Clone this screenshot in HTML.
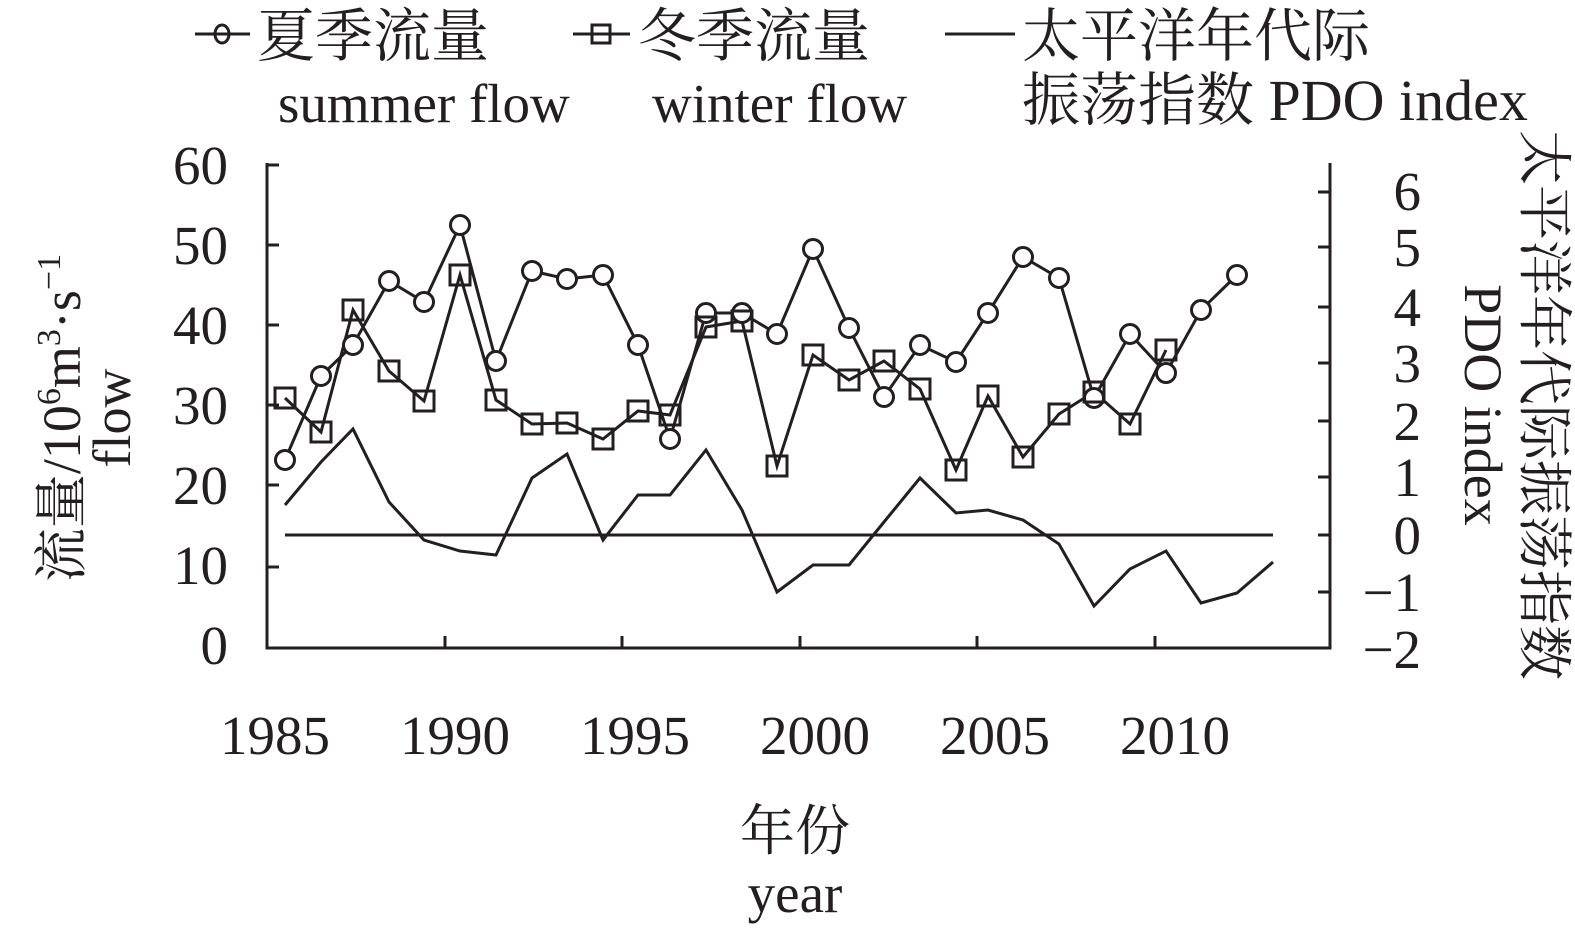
<!DOCTYPE html>
<html><head><meta charset="utf-8"><style>
html,body{margin:0;padding:0;background:#fff;}
svg{display:block;}
text{font-family:"Liberation Serif","Noto Serif CJK SC",serif;fill:#231f20;}
</style></head><body>
<svg width="1575" height="933" viewBox="0 0 1575 933" xmlns="http://www.w3.org/2000/svg">
<g stroke="#231f20" stroke-width="3" fill="none">
<polyline points="267,163 267,648 1330,648 1330,163"/>
<path d="M267,165h12M267,245h12M267,325h12M267,405h12M267,485h12M267,567h12"/>
<path d="M1330,192h-12M1330,247h-12M1330,307h-12M1330,363h-12M1330,421h-12M1330,477h-12M1330,535h-12M1330,592h-12"/>
<path d="M445,648v-12M622,648v-12M800,648v-12M977,648v-12M1155,648v-12"/>
<path d="M285,535H1273"/>
<polyline points="285,505 321,462 353,429 389,502 424,540 460,551 496,555 532,478 567,454 603,540 638,495 670,495 706,450 742,510 777,592 813,565 849,565 884,522 920,478 956,513 988,510 1023,520 1059,544 1094,606 1130,569 1166,551 1201,603 1237,593 1273,562"/>
<polyline points="285,460 321,376 353,345 389,281 424,302 460,225 496,361 532,271 567,279 603,275 638,345 670,439 706,313 742,313 777,334 813,249 849,328 884,397 920,345 956,362 988,313 1023,257 1059,278 1094,398 1130,334 1166,373 1201,310 1237,275"/>
<polyline points="285,398 321,432 353,310 389,371 424,401 460,275 496,400 532,424 567,423 603,439 638,411 670,415 706,327 742,321 777,466 813,355 849,380 884,361 920,389 956,470 988,396 1023,457 1059,414 1094,392 1130,424 1166,350"/>
</g>
<g stroke="#231f20" stroke-width="3" fill="#fff">
<circle cx="285" cy="460" r="9.5"/><circle cx="321" cy="376" r="9.5"/><circle cx="353" cy="345" r="9.5"/><circle cx="389" cy="281" r="9.5"/><circle cx="424" cy="302" r="9.5"/><circle cx="460" cy="225" r="9.5"/><circle cx="496" cy="361" r="9.5"/><circle cx="532" cy="271" r="9.5"/><circle cx="567" cy="279" r="9.5"/><circle cx="603" cy="275" r="9.5"/><circle cx="638" cy="345" r="9.5"/><circle cx="670" cy="439" r="9.5"/><circle cx="706" cy="313" r="9.5"/><circle cx="742" cy="313" r="9.5"/><circle cx="777" cy="334" r="9.5"/><circle cx="813" cy="249" r="9.5"/><circle cx="849" cy="328" r="9.5"/><circle cx="884" cy="397" r="9.5"/><circle cx="920" cy="345" r="9.5"/><circle cx="956" cy="362" r="9.5"/><circle cx="988" cy="313" r="9.5"/><circle cx="1023" cy="257" r="9.5"/><circle cx="1059" cy="278" r="9.5"/><circle cx="1094" cy="398" r="9.5"/><circle cx="1130" cy="334" r="9.5"/><circle cx="1166" cy="373" r="9.5"/><circle cx="1201" cy="310" r="9.5"/><circle cx="1237" cy="275" r="9.5"/>
</g>
<g stroke="#231f20" stroke-width="3" fill="none">
<rect x="275" y="388" width="20" height="20"/><rect x="311" y="422" width="20" height="20"/><rect x="343" y="300" width="20" height="20"/><rect x="379" y="361" width="20" height="20"/><rect x="414" y="391" width="20" height="20"/><rect x="450" y="265" width="20" height="20"/><rect x="486" y="390" width="20" height="20"/><rect x="522" y="414" width="20" height="20"/><rect x="557" y="413" width="20" height="20"/><rect x="593" y="429" width="20" height="20"/><rect x="628" y="401" width="20" height="20"/><rect x="660" y="405" width="20" height="20"/><rect x="696" y="317" width="20" height="20"/><rect x="732" y="311" width="20" height="20"/><rect x="767" y="456" width="20" height="20"/><rect x="803" y="345" width="20" height="20"/><rect x="839" y="370" width="20" height="20"/><rect x="874" y="351" width="20" height="20"/><rect x="910" y="379" width="20" height="20"/><rect x="946" y="460" width="20" height="20"/><rect x="978" y="386" width="20" height="20"/><rect x="1013" y="447" width="20" height="20"/><rect x="1049" y="404" width="20" height="20"/><rect x="1084" y="382" width="20" height="20"/><rect x="1120" y="414" width="20" height="20"/><rect x="1156" y="340" width="20" height="20"/>
</g>
<g stroke="#231f20" stroke-width="3" fill="none">
<path d="M195,34H250"/><ellipse cx="222" cy="34" rx="7" ry="9"/>
<path d="M573,34H630"/><rect x="592" y="25" width="18" height="18"/>
<path d="M945,34H1015"/>
</g>
<g font-size="58">
<text x="257" y="56">夏季流量</text>
<text x="638" y="56">冬季流量</text>
<text x="1022" y="56">太平洋年代际</text>
<text x="1022" y="120">振荡指数 PDO index</text>
</g>
<g font-size="55">
<text x="278" y="122">summer flow</text>
<text x="652" y="122">winter flow</text>
</g>
<g font-size="55" text-anchor="end">
<text x="228" y="184">60</text><text x="228" y="264">50</text><text x="228" y="344">40</text><text x="228" y="424">30</text><text x="228" y="504">20</text><text x="228" y="584">10</text><text x="228" y="664">0</text>
</g>
<g font-size="55" text-anchor="end">
<text x="1421" y="210">6</text><text x="1421" y="266">5</text><text x="1421" y="326">4</text><text x="1421" y="382">3</text><text x="1421" y="440">2</text><text x="1421" y="496">1</text><text x="1421" y="554">0</text><text x="1421" y="611">−1</text><text x="1421" y="668">−2</text>
</g>
<g font-size="55" text-anchor="middle">
<text x="275" y="754">1985</text><text x="455" y="754">1990</text><text x="635" y="754">1995</text><text x="815" y="754">2000</text><text x="995" y="754">2005</text><text x="1175" y="754">2010</text>
<text x="795" y="850">年份</text>
<text x="795" y="912">year</text>
</g>
<g font-size="54" transform="translate(80,418) rotate(-90)" text-anchor="middle">
<text x="0" y="0">流量/10<tspan font-size="34" dy="-20">6</tspan><tspan dy="20">m</tspan><tspan font-size="34" dy="-20">3</tspan><tspan dy="20">·s</tspan><tspan font-size="34" dy="-20">−1</tspan></text>
<text x="0" y="50">flow</text>
</g>
<g font-size="54" transform="translate(1525,405) rotate(90)" text-anchor="middle">
<text x="0" y="0" font-size="55">太平洋年代际振荡指数</text>
<text x="0" y="60">PDO index</text>
</g>
</svg>
</body></html>
